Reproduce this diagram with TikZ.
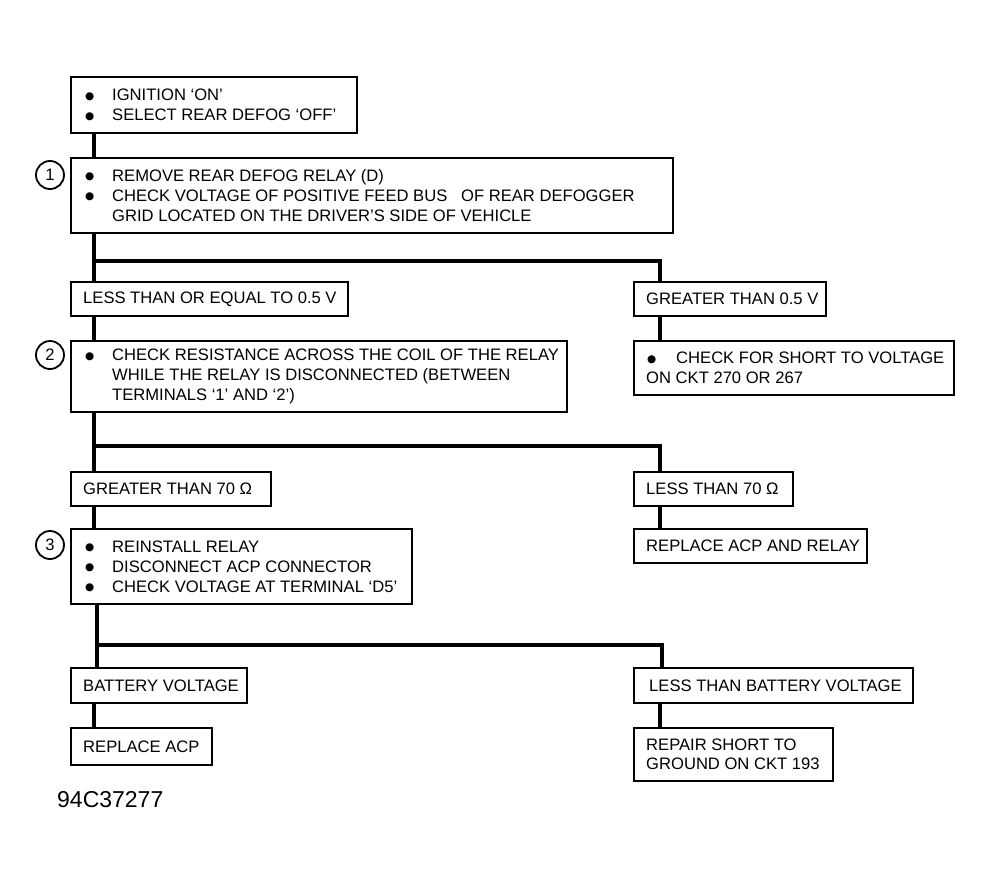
\documentclass[tikz,border=0pt]{standalone}
\usepackage{fontspec}
\setmainfont{Liberation Sans}
\newfontfamily\djv{DejaVu Sans}
\newcommand\fs{\fontsize{16.6}{20}\selectfont}
\newcommand\bul[1]{\makebox[#1][l]{\hspace*{1pt}\raisebox{1.3pt}{\djv\fontsize{10.5}{20}\selectfont ●}}}
\tikzset{
  box/.style={draw, line width=1.6pt, anchor=north west, inner sep=0pt},
  txt/.style={anchor=west, inner sep=0pt, align=left, font=\fs},
  conn/.style={line width=4pt},
  num/.style={draw, circle, line width=1.8pt, minimum size=28pt, inner sep=0pt, font=\fs}
}
\begin{document}
\begin{tikzpicture}[x=1pt,y=-1pt]
\fill[white] (0,0) rectangle (993,883);
\useasboundingbox (0,0) rectangle (993,883);
% boxes
\node[box, minimum width=286pt, minimum height=56pt] (A) at (70,76) {};
\node[txt] (tA) at ([xshift=14pt]A.west)
  {\bul{28pt}IGNITION ‘ON’\\\bul{28pt}SELECT REAR DEFOG ‘OFF’};
\node[box, minimum width=602pt, minimum height=75pt] (B1) at (70,157) {};
\node[txt] (tB1) at ([xshift=14pt]B1.west)
  {\bul{28pt}REMOVE REAR DEFOG RELAY (D)\\\bul{28pt}CHECK VOLTAGE OF POSITIVE FEED BUS \ \ OF REAR DEFOGGER\\\hspace*{28pt}GRID LOCATED ON THE DRIVER’S SIDE OF VEHICLE};
\node[box, minimum width=277pt, minimum height=34pt] (L1) at (70,281) {};
\node[txt] (tL1) at ([xshift=13pt]L1.west) {LESS THAN OR EQUAL TO 0.5 V};
\node[box, minimum width=192pt, minimum height=34pt] (R1) at (633,281) {};
\node[txt] (tR1) at ([xshift=13pt]R1.west) {GREATER THAN 0.5 V};
\node[box, minimum width=496pt, minimum height=71pt] (B2) at (70,340) {};
\node[txt] (tB2) at ([xshift=14pt]B2.west)
  {\bul{28pt}CHECK RESISTANCE ACROSS THE COIL OF THE RELAY\\\hspace*{28pt}WHILE THE RELAY IS DISCONNECTED (BETWEEN\\\hspace*{28pt}TERMINALS ‘1’ AND ‘2’)};
\node[box, minimum width=320pt, minimum height=54pt] (R1b) at (633,340) {};
\node[txt] (tR1b) at ([xshift=13pt]R1b.west)
  {\bul{30pt}CHECK FOR SHORT TO VOLTAGE\\ON CKT 270 OR 267};
\node[box, minimum width=200pt, minimum height=34pt] (L2) at (70,471) {};
\node[txt] (tL2) at ([xshift=13pt]L2.west) {GREATER THAN 70 Ω};
\node[box, minimum width=159pt, minimum height=34pt] (R2) at (633,471) {};
\node[txt] (tR2) at ([xshift=13pt]R2.west) {LESS THAN 70 Ω};
\node[box, minimum width=341pt, minimum height=75pt] (B3) at (70,528) {};
\node[txt] (tB3) at ([xshift=14pt]B3.west)
  {\bul{28pt}REINSTALL RELAY\\\bul{28pt}DISCONNECT ACP CONNECTOR\\\bul{28pt}CHECK VOLTAGE AT TERMINAL ‘D5’};
\node[box, minimum width=233pt, minimum height=34pt] (R2b) at (633,528) {};
\node[txt] (tR2b) at ([xshift=13pt]R2b.west) {REPLACE ACP AND RELAY};
\node[box, minimum width=176pt, minimum height=35pt] (L3) at (70,667) {};
\node[txt] (tL3) at ([xshift=13pt]L3.west) {BATTERY VOLTAGE};
\node[box, minimum width=279pt, minimum height=35pt] (R3) at (633,667) {};
\node[txt] (tR3) at ([xshift=16pt]R3.west) {LESS THAN BATTERY VOLTAGE};
\node[box, minimum width=141pt, minimum height=37pt] (L3b) at (70,727) {};
\node[txt] (tL3b) at ([xshift=13pt]L3b.west) {REPLACE ACP};
\node[box, minimum width=199pt, minimum height=53pt] (R3b) at (633,727) {};
\node[txt, font=\fontsize{16.6}{19}\selectfont] (tR3b) at ([xshift=13pt]R3b.west)
  {REPAIR SHORT TO\\GROUND ON CKT 193};
% step numbers
\node[num] (n1) at (50,175) {1};
\node[num] (n2) at (50,355) {2};
\node[num] (n3) at (50,545) {3};
% junctions
\coordinate (j1) at (94,261);
\coordinate (j2) at (94,446);
\coordinate (j3) at (97,645);
% connectors
\draw[conn] ([xshift=24pt]A.south west) -- ([xshift=24pt]B1.north west);
\draw[conn] ([xshift=24pt]B1.south west) -- ([xshift=24pt]L1.north west);
\draw[conn] (j1) -| ([xshift=27pt]R1.north west);
\draw[conn] ([xshift=24pt]L1.south west) -- ([xshift=24pt]B2.north west);
\draw[conn] ([xshift=27pt]R1.south west) -- ([xshift=27pt]R1b.north west);
\draw[conn] ([xshift=24pt]B2.south west) -- ([xshift=24pt]L2.north west);
\draw[conn] (j2) -| ([xshift=27pt]R2.north west);
\draw[conn] ([xshift=24pt]L2.south west) -- ([xshift=24pt]B3.north west);
\draw[conn] ([xshift=27pt]R2.south west) -- ([xshift=27pt]R2b.north west);
\draw[conn] ([xshift=27pt]B3.south west) -- ([xshift=27pt]L3.north west);
\draw[conn] (j3) -| ([xshift=29pt]R3.north west);
\draw[conn] ([xshift=24pt]L3.south west) -- ([xshift=24pt]L3b.north west);
\draw[conn] ([xshift=27pt]R3.south west) -- ([xshift=27pt]R3b.north west);
% figure code
\node[anchor=west, inner sep=0pt, font=\fontsize{23}{26}\selectfont] (code) at (57,800) {94C37277};
\end{tikzpicture}
\end{document}
